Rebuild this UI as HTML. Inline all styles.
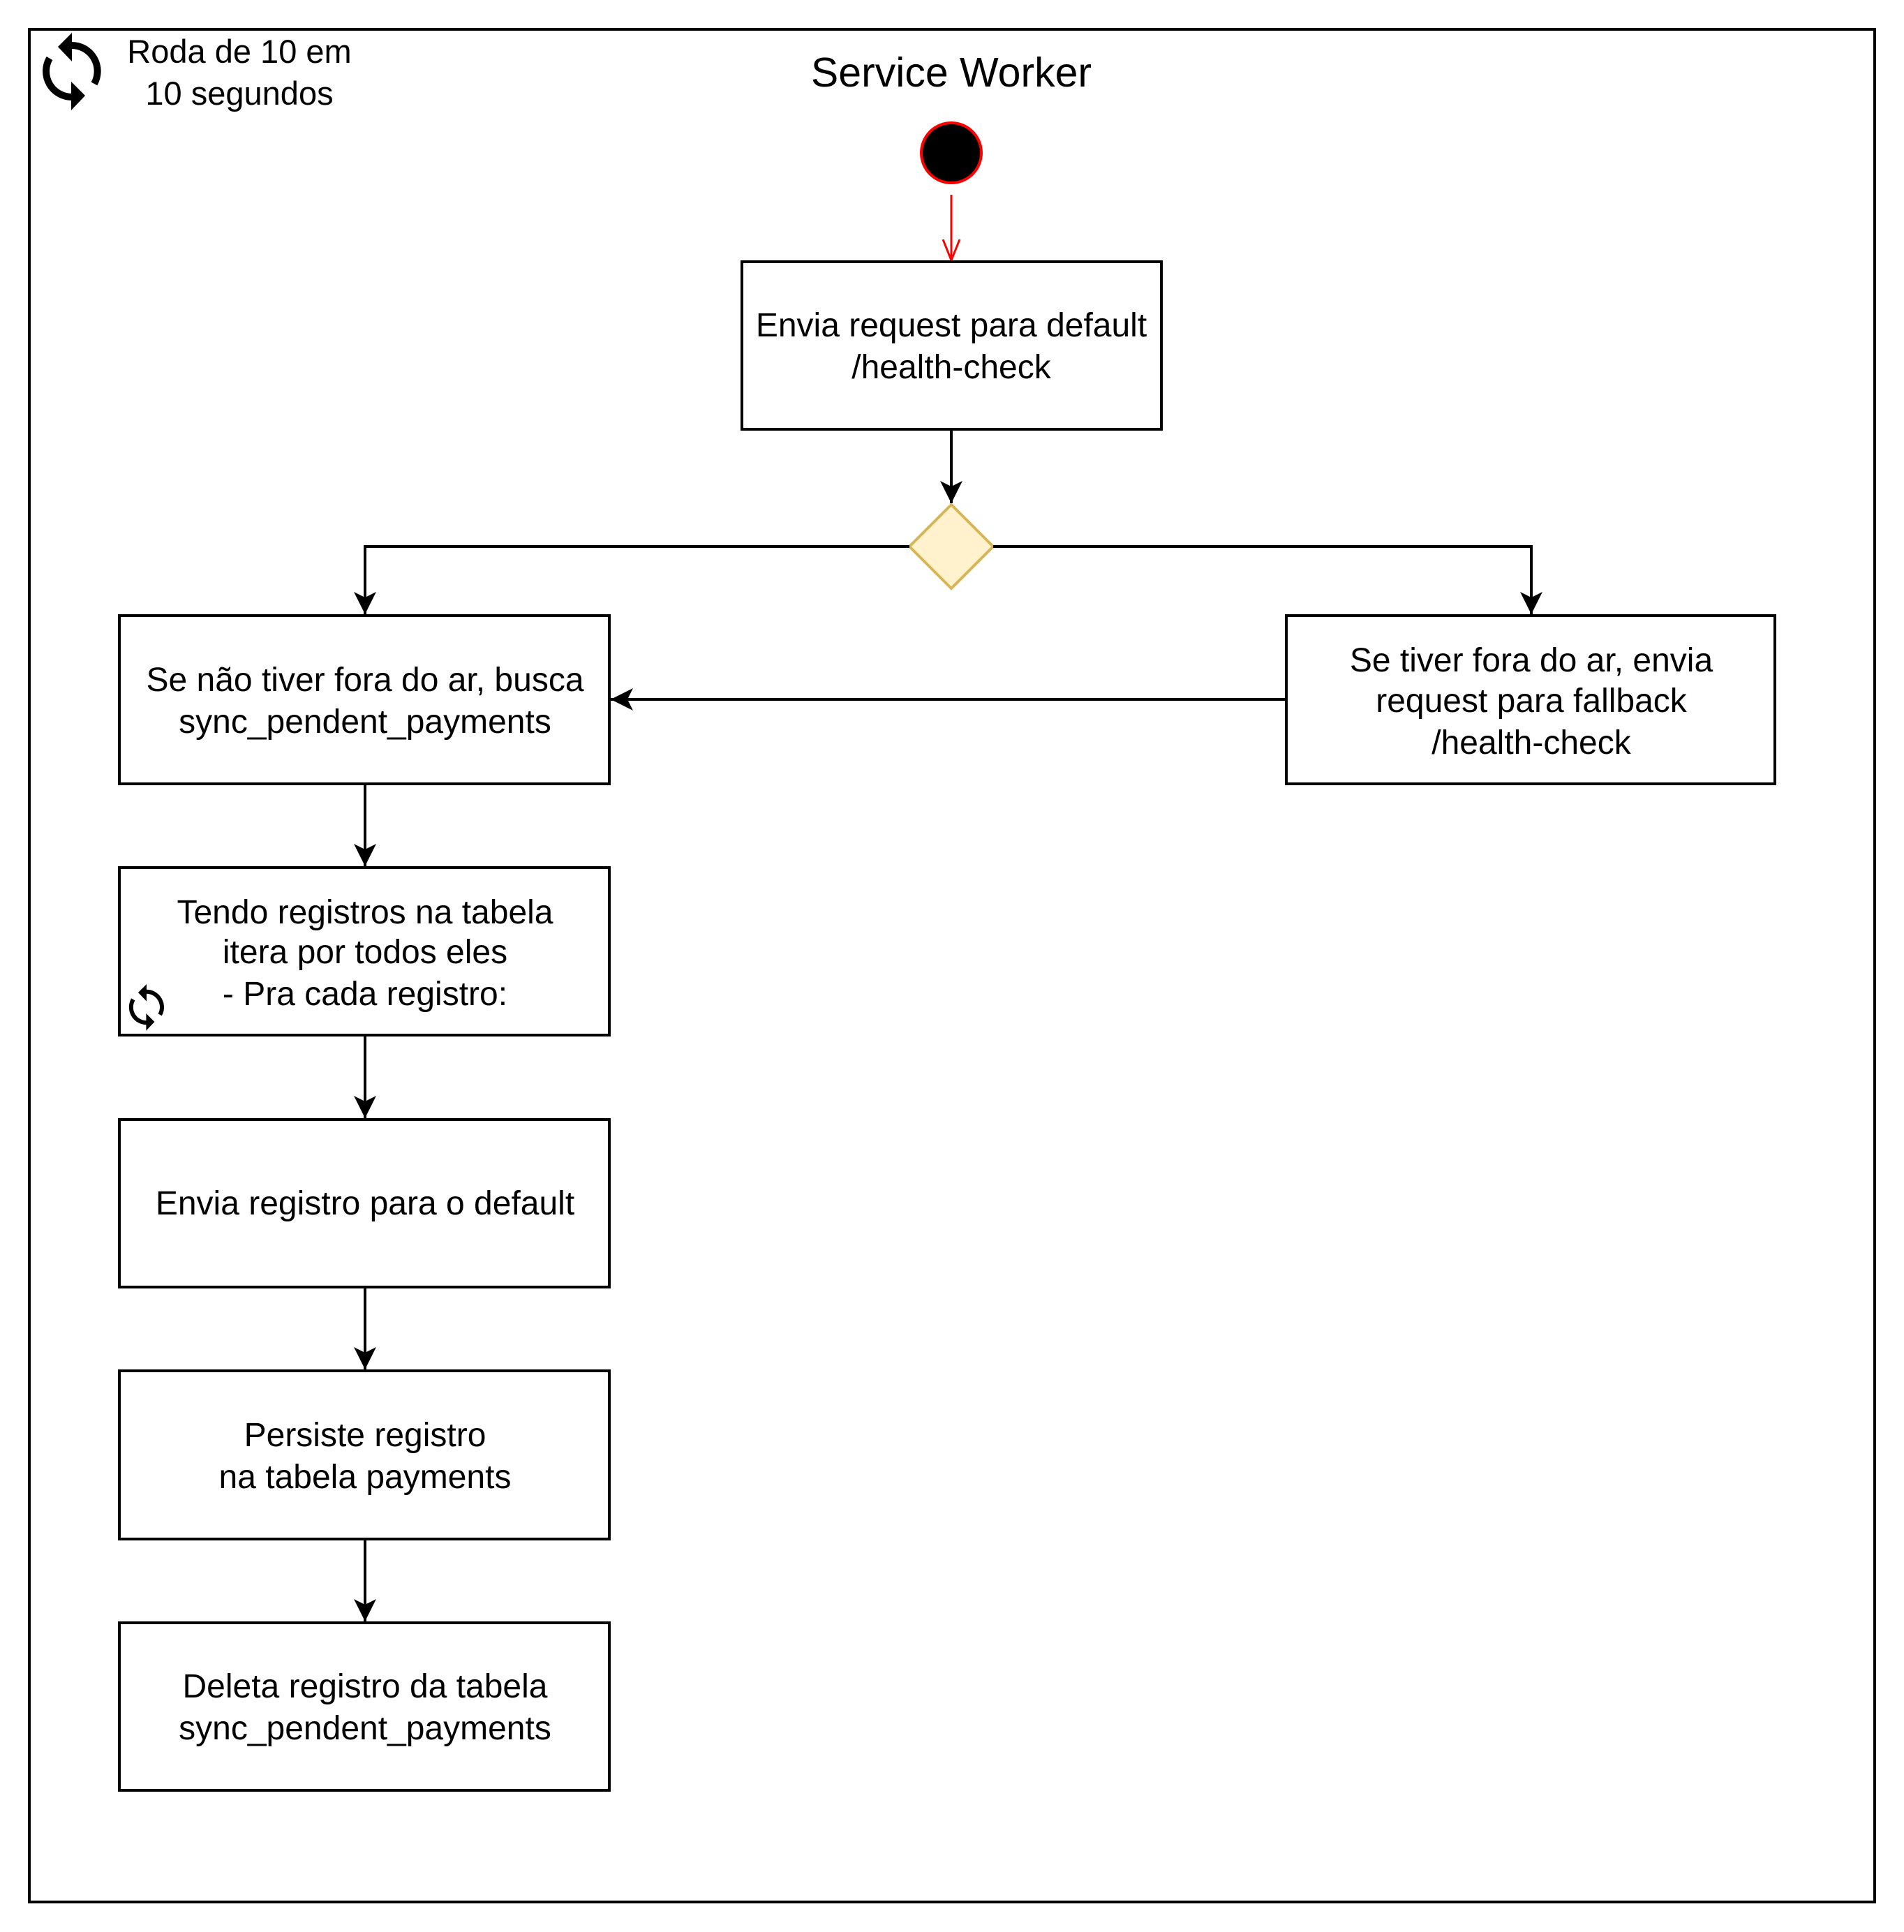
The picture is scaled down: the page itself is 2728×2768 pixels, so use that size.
<!DOCTYPE html>
<html><head><meta charset="utf-8"><style>
html,body{margin:0;padding:0;background:#fff}
svg{display:block}
text{font-family:"Liberation Sans",sans-serif;fill:#000}
</style></head><body>
<svg width="2728" height="2768" viewBox="0 0 2728 2768" xmlns="http://www.w3.org/2000/svg">
<defs>
<marker id="ah" markerUnits="userSpaceOnUse" markerWidth="40" markerHeight="40" refX="32" refY="16" orient="auto">
<path d="M0,0 L32,16 L0,32 L8,16 Z" fill="#000"/>
</marker>
<marker id="ar" markerUnits="userSpaceOnUse" markerWidth="40" markerHeight="40" refX="30" refY="15" orient="auto">
<path d="M0,3 L30,15 L0,27" fill="none" stroke="#f00" stroke-width="3"/>
</marker>
<g id="ico">
<path d="M103,65 A37,37 0 0 1 135,120" fill="none" stroke="#000" stroke-width="10"/>
<path d="M103,139 A37,37 0 0 1 71,83.5" fill="none" stroke="#000" stroke-width="10"/>
<path d="M83,67 L103,47 L103,88 Z" fill="#000"/>
<path d="M122,137 L102,117 L102,158 Z" fill="#000"/>
</g>
</defs>
<rect x="42" y="42" width="2644" height="2683" fill="none" stroke="#000" stroke-width="4"/>
<use href="#ico"/>
<g transform="translate(210,1443) scale(0.6) translate(-103,-102)"><use href="#ico"/></g>
<text x="343" y="90" font-size="47" text-anchor="middle">Roda de 10 em</text>
<text x="343" y="150" font-size="47" text-anchor="middle">10 segundos</text>
<text x="1363" y="124" font-size="59" text-anchor="middle">Service Worker</text>
<circle cx="1363" cy="219" r="43" fill="#000" stroke="#f00" stroke-width="4"/>
<line x1="1363" y1="279" x2="1363" y2="373" stroke="#f00" stroke-width="3" marker-end="url(#ar)"/>
<g fill="none" stroke="#000" stroke-width="4">
<rect x="1063" y="375" width="601" height="240"/>
<rect x="171" y="882" width="702" height="241"/>
<rect x="1843" y="882" width="700" height="241"/>
<rect x="171" y="1243" width="702" height="240"/>
<rect x="171" y="1604" width="702" height="240"/>
<rect x="171" y="1964" width="702" height="241"/>
<rect x="171" y="2325" width="702" height="240"/>
</g>
<polygon points="1363,723 1423,783 1363,843 1303,783" fill="#fff2cc" stroke="#d6b656" stroke-width="4"/>
<g fill="none" stroke="#000" stroke-width="4" marker-end="url(#ah)">
<line x1="1363" y1="615" x2="1363" y2="721"/>
<polyline points="1303,783 523,783 523,880"/>
<polyline points="1423,783 2194,783 2194,880"/>
<line x1="1843" y1="1002" x2="875" y2="1002"/>
<line x1="523" y1="1123" x2="523" y2="1241"/>
<line x1="523" y1="1483" x2="523" y2="1602"/>
<line x1="523" y1="1844" x2="523" y2="1962"/>
<line x1="523" y1="2205" x2="523" y2="2323"/>
</g>
<g font-size="48" text-anchor="middle">
<text x="1363" y="482">Envia request para default</text>
<text x="1363" y="542">/health-check</text>
<text x="523" y="990">Se não tiver fora do ar, busca</text>
<text x="523" y="1050">sync_pendent_payments</text>
<text x="2194" y="962">Se tiver fora do ar, envia</text>
<text x="2194" y="1020">request para fallback</text>
<text x="2194" y="1080">/health-check</text>
<text x="523" y="1323">Tendo registros na tabela</text>
<text x="523" y="1380">itera por todos eles</text>
<text x="523" y="1440">- Pra cada registro:</text>
<text x="523" y="1740">Envia registro para o default</text>
<text x="523" y="2072">Persiste registro</text>
<text x="523" y="2132">na tabela payments</text>
<text x="523" y="2432">Deleta registro da tabela</text>
<text x="523" y="2492">sync_pendent_payments</text>
</g>
</svg>
</body></html>
